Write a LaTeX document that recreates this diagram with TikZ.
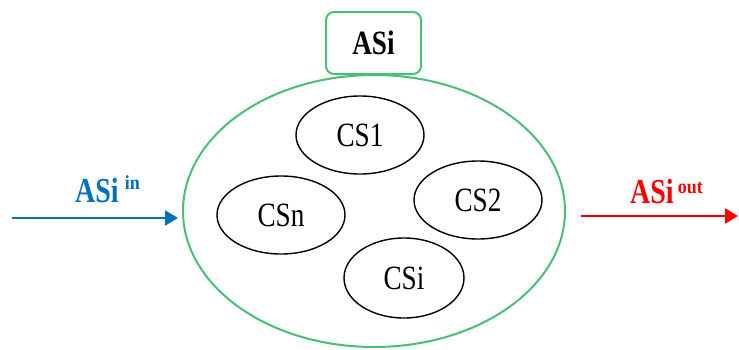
\documentclass[tikz,border=0pt]{standalone}
\usepackage{fontspec}
\setmainfont{Liberation Serif}
\usetikzlibrary{arrows.meta,shapes.geometric}
\definecolor{grn}{RGB}{72,190,118}
\definecolor{blu}{RGB}{0,112,192}
\definecolor{rd}{RGB}{255,0,0}
\newcommand{\sqz}[1]{\scalebox{0.8}[1]{#1}}
\begin{document}
\begin{tikzpicture}[x=1pt,y=-1pt,
  big/.style={ellipse, draw=grn, line width=2pt, inner sep=0pt},
  cs/.style={ellipse, draw=black, line width=1.4pt, minimum width=128pt, minimum height=78pt, inner sep=0pt, font=\fontsize{34}{38}\selectfont},
  box/.style={draw=grn, line width=2pt, rounded corners=8pt, fill=white, minimum width=95pt, minimum height=62pt, inner sep=0pt, font=\bfseries\fontsize{34}{38}\selectfont},
  flow/.style={line width=2.5pt, -{Triangle[length=13pt,width=15pt]}},
  lbl/.style={anchor=base west, inner sep=0pt, font=\bfseries\fontsize{35}{38}\selectfont}
]
\useasboundingbox (0,0) rectangle (739,349);
\node[big, minimum width=382pt, minimum height=272pt] (sys) at (374,211) {};
\node[box] (asi) at (373.5,43) {\sqz{ASi}};
\node[cs] (cs1) at (360,135) {\sqz{CS1}};
\node[cs] (csn) at (281,215) {\sqz{CSn}};
\node[cs] (cs2) at (478,200) {\sqz{CS2}};
\node[cs, minimum width=120pt, minimum height=80pt] (csi) at (404,278) {\sqz{CSi}};
\coordinate (inS) at (12,218);
\coordinate (inE) at (178,218);
\coordinate (outS) at (581,216);
\coordinate (outE) at (738,216);
\draw[flow, blu] (inS) -- (inE);
\draw[flow, rd] (outS) -- (outE);
\node[lbl, text=blu] (lin) at (75,202) {\sqz{ASi}\hspace{6pt}\scalebox{0.9}[1]{\raisebox{13pt}{\fontsize{20}{20}\selectfont in}}};
\node[lbl, text=rd] (lout) at (630,203) {\sqz{ASi}\hspace{4pt}\scalebox{0.9}[1]{\raisebox{10pt}{\fontsize{20}{20}\selectfont out}}};
\end{tikzpicture}
\end{document}
